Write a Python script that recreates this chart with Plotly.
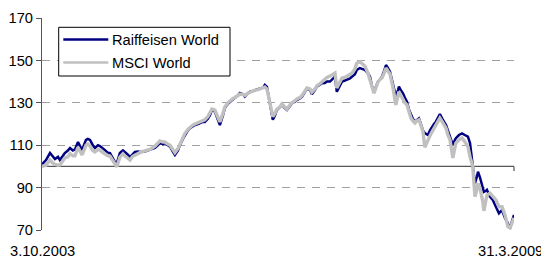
import plotly.graph_objects as go

dates = [
    "2003-10-03", "2003-10-20", "2003-11-06", "2003-11-18", "2003-11-27", "2003-12-10", "2003-12-18", "2003-12-31",
    "2004-01-08", "2004-01-21", "2004-01-30", "2004-02-11", "2004-02-20", "2004-03-04", "2004-03-12", "2004-03-21",
    "2004-03-29", "2004-04-07", "2004-04-15", "2004-04-24", "2004-05-06", "2004-05-15", "2004-05-28", "2004-06-05",
    "2004-06-18", "2004-06-27", "2004-07-09", "2004-07-18", "2004-07-31", "2004-08-08", "2004-08-16", "2004-08-29",
    "2004-09-11", "2004-09-19", "2004-10-02", "2004-10-11", "2004-10-23", "2004-11-01", "2004-11-14", "2004-11-22",
    "2004-12-13", "2005-01-04", "2005-01-25", "2005-02-07", "2005-02-15", "2005-02-28", "2005-03-08", "2005-03-21",
    "2005-03-30", "2005-04-11", "2005-04-20", "2005-05-03", "2005-05-11", "2005-05-24", "2005-06-01", "2005-06-14",
    "2005-06-23", "2005-07-05", "2005-07-14", "2005-07-27", "2005-08-04", "2005-08-17", "2005-08-25", "2005-09-07",
    "2005-09-16", "2005-09-24", "2005-10-07", "2005-10-20", "2005-10-28", "2005-11-10", "2005-11-18", "2005-12-01",
    "2005-12-10", "2005-12-22", "2005-12-30", "2006-01-13", "2006-01-21", "2006-02-03", "2006-02-11", "2006-02-24",
    "2006-03-05", "2006-03-17", "2006-03-26", "2006-04-08", "2006-04-16", "2006-04-29", "2006-05-07", "2006-05-16",
    "2006-05-29", "2006-06-10", "2006-06-19", "2006-06-27", "2006-07-10", "2006-07-19", "2006-07-31", "2006-08-09",
    "2006-08-22", "2006-08-30", "2006-09-12", "2006-09-20", "2006-10-03", "2006-10-12", "2006-10-24", "2006-11-02",
    "2006-11-15", "2006-11-23", "2006-12-06", "2006-12-14", "2006-12-27", "2007-01-05", "2007-01-17", "2007-01-26",
    "2007-02-08", "2007-02-20", "2007-03-01", "2007-03-09", "2007-03-22", "2007-03-31", "2007-04-12", "2007-04-21",
    "2007-05-04", "2007-05-12", "2007-05-25", "2007-06-02", "2007-06-15", "2007-06-24", "2007-07-06", "2007-07-19",
    "2007-07-28", "2007-08-05", "2007-08-14", "2007-08-22", "2007-08-31", "2007-09-08", "2007-09-17", "2007-09-26",
    "2007-10-04", "2007-10-12", "2007-10-21", "2007-10-29", "2007-11-02", "2007-11-11", "2007-11-15", "2007-11-24",
    "2007-11-28", "2007-12-06", "2007-12-15", "2007-12-23", "2008-01-01", "2008-01-09", "2008-01-18", "2008-01-26",
    "2008-02-04", "2008-02-12", "2008-02-21", "2008-02-29", "2008-03-09", "2008-03-17", "2008-03-26", "2008-03-30",
    "2008-04-08", "2008-04-16", "2008-04-25", "2008-05-03", "2008-05-12", "2008-05-20", "2008-06-02", "2008-06-15",
    "2008-06-23", "2008-07-02", "2008-07-10", "2008-07-14", "2008-07-23", "2008-07-27", "2008-08-09", "2008-08-22",
    "2008-09-03", "2008-09-16", "2008-09-25", "2008-10-03", "2008-10-07", "2008-10-12", "2008-10-16", "2008-10-24",
    "2008-10-29", "2008-11-06", "2008-11-10", "2008-11-19", "2008-11-23", "2008-12-02", "2008-12-06", "2008-12-19",
    "2008-12-31", "2009-01-13", "2009-01-26", "2009-02-08", "2009-02-21", "2009-03-05", "2009-03-14", "2009-03-22",
    "2009-03-31",
]

raiffeisen_world = [
    101, 103, 106.3, 104.5, 103.5, 104.5, 103, 105,
    106.3, 107.5, 108.7, 107.5, 108, 111.5, 109.5, 107.7,
    110, 112.5, 113, 112.5, 110, 108.7, 110, 109.6,
    108.5, 107.7, 106.5, 106.3, 104, 102, 101.5, 106.3,
    107.5, 106.8, 105.5, 104.4, 106, 106.8, 107, 106.8,
    107, 107.7, 108.7, 110, 111, 110.5, 111, 110,
    109.3, 107, 105.4, 107.5, 110, 113, 114.8, 117,
    118, 119, 119.5, 120, 120.5, 121, 121, 122.5,
    124.2, 126.6, 125.8, 121.5, 119.5, 124, 127.5, 129.5,
    130.5, 131.5, 132.3, 133.5, 134.6, 134, 132.9, 134.5,
    135.2, 135.5, 136, 136.5, 136.8, 137, 138.4, 137.5,
    129, 122, 124, 126.6, 128, 129, 127.5, 126.6,
    128.5, 129.8, 130.5, 131.3, 132, 132.9, 135, 136.8,
    136, 134, 136, 137.6, 138.5, 139.2, 139.3, 140,
    140, 141.5, 142.3, 135.2, 138.5, 140, 140.5, 140.8,
    141.5, 142.3, 143.5, 145.5, 146.4, 146, 145.5, 144,
    142.3, 138, 135.2, 137.5, 140, 141, 142.3, 145,
    147.8, 146.5, 144.7, 141, 139.3, 134.5, 132.9, 136,
    137.6, 136, 134.5, 132.5, 130.5, 127, 124.2, 122.5,
    121.1, 122, 122.7, 120, 117, 115.7, 114.8, 114.8,
    117, 118.7, 120, 121.1, 123, 124.7, 121.9, 119.5,
    117, 114, 111, 110.1, 112.5, 113.3, 114.8, 115.6,
    114.8, 114, 111, 103, 99.9, 95.1, 92, 95,
    97.5, 95, 93.6, 90, 88, 88.5, 88.9, 85.7,
    84.2, 81, 77.9, 79.4, 75.5, 73.2, 70.8, 74,
    77.1,
]

msci_world = [
    100, 100.5, 103, 101.5, 101, 100.5, 100.7, 102.5,
    104, 104.5, 106, 105, 105, 109, 107, 105.4,
    107.5, 110, 110.5, 109.6, 107.5, 106.8, 108, 107.7,
    106.5, 105.8, 105, 104.9, 102.5, 100.7, 99.8, 104.4,
    106, 105, 104, 103, 104.8, 105.4, 106, 106.5,
    107.3, 108, 109.5, 111, 112, 111.5, 111.5, 110.5,
    110, 108, 106.5, 108.5, 110.5, 113.5, 115.5, 117.5,
    118.5, 119.5, 120, 120.5, 121, 121.5, 122, 123.5,
    125, 127, 126.5, 122.5, 121, 125, 128, 130,
    131, 132, 132.5, 133.5, 134, 134, 133.5, 134.5,
    135, 135.5, 136, 136.2, 136.5, 136.8, 137.5, 136.5,
    130, 123.5, 125, 127, 128, 129.5, 128, 127,
    129, 130, 131, 131.8, 132.5, 133.5, 135.5, 137,
    136.5, 135, 136.5, 138, 139, 140, 141.5, 142,
    142.6, 143.3, 144, 137, 140, 141.7, 142, 142.6,
    143.3, 144, 146, 148.7, 149.4, 148.5, 147.4, 144,
    140.8, 138, 134.5, 137, 139.8, 141, 141.7, 144,
    146.4, 145, 143.6, 139.5, 137.6, 131.5, 129, 133.5,
    135.2, 133.5, 131.3, 130, 129, 126, 122.8, 121.5,
    120.5, 121.5, 122, 119.5, 116.5, 109, 111.5, 112.5,
    114.5, 116.2, 118, 119.5, 121, 122.8, 120.5, 118,
    115, 112.5, 107, 104, 109, 111, 112.5, 113.4,
    111.7, 109.3, 104.6, 100.5, 99.9, 92, 85.7, 89,
    92, 90, 88, 83, 79, 84, 86.5, 87.4,
    85.7, 84.2, 81, 81, 77, 71.6, 71, 73.5,
    75.7,
]

series_names = ["Raiffeisen World", "MSCI World"]
series_colors = ["#000080", "#C0C0C0"]
y_ticks = [70, 90, 110, 130, 150, 170]
start_label = "3.10.2003"
end_label = "31.3.2009"

FONT = "Liberation Sans, Arial, sans-serif"
FS = 14.67

# page is offset by the browser's 8px body margin
PW, PH = 472, 212          # plot area size
L, T = 34, 10              # margins inside the figure
W, H = 541, 250


def px(x):  # reference page x -> paper fraction
    return (x - 42) / PW


def py(y):  # reference page y -> paper fraction
    return 1 - (y - 18) / PH


fig = go.Figure()
fig.add_trace(go.Scatter(
    x=dates, y=raiffeisen_world, mode="lines", name=series_names[0],
    line=dict(color=series_colors[0], width=2.5), showlegend=False,
))
fig.add_trace(go.Scatter(
    x=dates, y=msci_world, mode="lines", name=series_names[1],
    line=dict(color=series_colors[1], width=3.4), showlegend=False,
))

shapes = [
    # axis crossing at 100
    dict(type="line", xref="paper", yref="y", x0=0, x1=1, y0=100, y1=100,
         line=dict(color="#555555", width=1.2), layer="below"),
    dict(type="line", xref="paper", yref="paper", x0=1, x1=1,
         y0=py(166.5), y1=py(171),
         line=dict(color="#555555", width=1.2)),
    # legend box
    dict(type="rect", xref="paper", yref="paper",
         x0=px(58.7), x1=px(230), y0=py(76), y1=py(27.3),
         fillcolor="white", line=dict(color="black", width=1), layer="above"),
    dict(type="line", xref="paper", yref="paper",
         x0=px(63.3), x1=px(108.3), y0=py(39.5), y1=py(39.5),
         line=dict(color=series_colors[0], width=2.5), layer="above"),
    dict(type="line", xref="paper", yref="paper",
         x0=px(63.3), x1=px(108.3), y0=py(62.5), y1=py(62.5),
         line=dict(color=series_colors[1], width=2.5), layer="above"),
]

annotations = [
    dict(text=series_names[0], xref="paper", yref="paper", x=px(109.5), y=py(40),
         xanchor="left", yanchor="middle", showarrow=False,
         font=dict(family=FONT, size=FS, color="black")),
    dict(text=series_names[1], xref="paper", yref="paper", x=px(109.5), y=py(63),
         xanchor="left", yanchor="middle", showarrow=False,
         font=dict(family=FONT, size=FS, color="black")),
    dict(text=start_label, xref="paper", yref="paper", x=px(8), y=py(251),
         xanchor="left", yanchor="middle", showarrow=False,
         font=dict(family=FONT, size=FS, color="black")),
    dict(text=end_label, xref="paper", yref="paper", x=px(545), y=py(251),
         xanchor="right", yanchor="middle", showarrow=False,
         font=dict(family=FONT, size=FS, color="black")),
]

fig.update_layout(
    width=W, height=H,
    margin=dict(l=L, r=W - L - PW, t=T, b=H - T - PH, pad=0, autoexpand=False),
    paper_bgcolor="white", plot_bgcolor="white",
    font=dict(family=FONT, size=FS, color="black"),
    showlegend=False,
    xaxis=dict(
        type="date", range=["2003-10-03", "2009-03-31"],
        showgrid=False, showline=False, showticklabels=False, ticks="",
        zeroline=False, automargin=False,
    ),
    yaxis=dict(
        range=[70, 170], tickvals=y_ticks,
        showgrid=True, gridcolor="#A0A0A0", gridwidth=1, griddash="8px,7px",
        showline=True, linecolor="#555555", linewidth=1.2,
        ticks="outside", ticklen=5, tickcolor="#555555", tickwidth=1.2,
        zeroline=False, automargin=False,
        tickfont=dict(family=FONT, size=FS, color="black"),
    ),
    shapes=shapes,
    annotations=annotations,
)

fig.write_html("out.html")
